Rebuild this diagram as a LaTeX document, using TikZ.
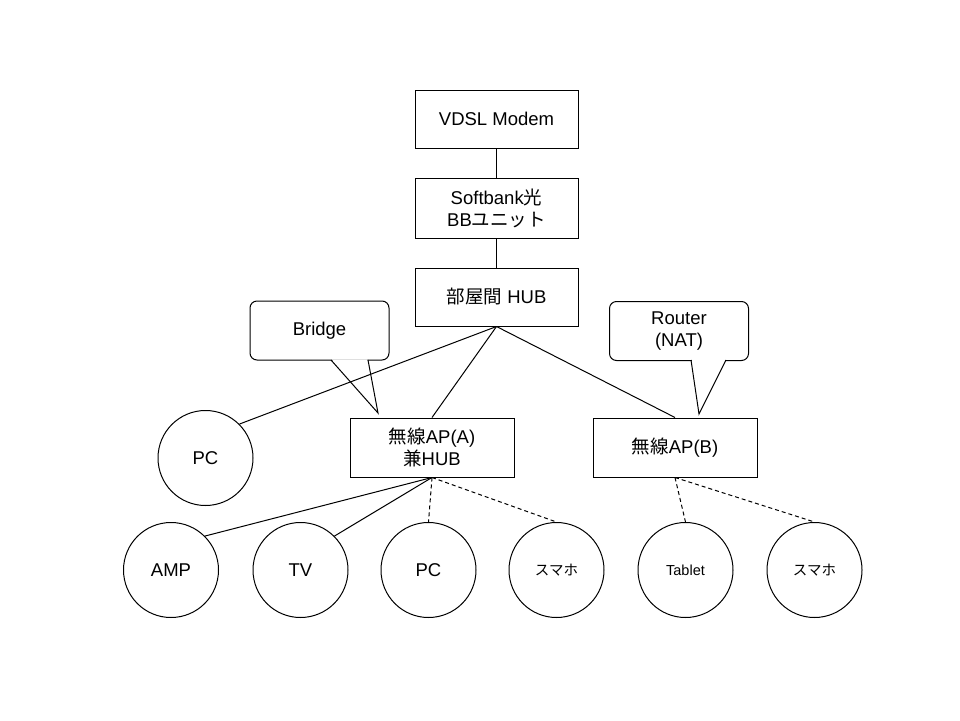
\documentclass[tikz,border=0pt]{standalone}
\usepackage{fontspec}
\setmainfont{Liberation Sans}
\newfontfamily\jp{Noto Sans CJK JP}
\begin{document}
\begin{tikzpicture}[x=1pt,y=-1pt,
  every node/.style={font=\fontsize{18.5}{22}\selectfont, align=center, inner sep=0pt},
  boxnode/.style={draw, line width=1pt, minimum width=163pt, minimum height=58pt},
  devnode/.style={draw, circle, line width=1pt, minimum size=95pt},
  smalltext/.style={font=\fontsize{14.5}{17}\selectfont},
  conn/.style={line width=1pt},
  wconn/.style={line width=1pt, dash pattern=on 4pt off 3pt},
  calloutbox/.style={draw, line width=1pt, rounded corners=7pt, minimum width=139pt, minimum height=59pt}
]
\useasboundingbox (0,0) rectangle (960,720);

% callouts
\node[calloutbox] (bridge) at (319.5,330.5) {Bridge};
\fill[white] (331.8,-0.6+360) -- (367.3,-0.6+360) -- (378,413) -- cycle;
\coordinate (bl) at (331,360);
\coordinate (br) at (368,360);
\coordinate (bt) at (378,413);
\draw[conn, line join=miter] (bl) -- (bt) -- (br);

\node[calloutbox] (router) at (679,331) {Router\\(NAT)};
\fill[white] (691.8,-0.6+360) -- (725.4,-0.6+360) -- (699,414) -- cycle;
\coordinate (rl) at (691,360);
\coordinate (rr) at (726,360);
\coordinate (rt) at (699,414);
\draw[conn, line join=miter] (rl) -- (rt) -- (rr);

% boxes
\node[boxnode] (vdsl) at (496.5,119) {VDSL Modem};
\node[boxnode, minimum height=60pt] (sbb) at (496.5,208) {Softbank{\jp 光}\\BB{\jp ユニット}};
\node[boxnode] (hub) at (496.5,297) {{\jp 部屋間} HUB};
\node[boxnode, minimum width=164pt, minimum height=59pt] (apa) at (432,447.5) {{\jp 無線}AP(A)\\{\jp 兼}HUB};
\node[boxnode, minimum width=164pt, minimum height=59pt] (apb) at (675,447.5) {{\jp 無線}AP(B)};

% devices
\node[devnode] (pcl) at (205.5,458) {PC};
\node[devnode] (amp) at (171,570) {AMP};
\node[devnode] (tv) at (300.5,570) {TV};
\node[devnode] (pcb) at (428.5,570) {PC};
\node[devnode, smalltext] (sma) at (556.5,570) {\jp スマホ};
\node[devnode, smalltext] (tab) at (685.5,570) {Tablet};
\node[devnode, smalltext] (smb) at (814.5,570) {\jp スマホ};

% connectors
\draw[conn] (vdsl.south) -- (sbb.north);
\draw[conn] (sbb.south) -- (hub.north);
\draw[conn] (hub.south) -- (pcl.45);
\draw[conn] (hub.south) -- (apa.north);
\draw[conn] (hub.south) -- (apb.north);
\draw[conn] (apa.south) -- (amp.45);
\draw[conn] (apa.south) -- (tv.45);
\draw[wconn] (apa.south) -- (pcb.north);
\draw[wconn] (apa.south) -- (sma.north);
\draw[wconn] (apb.south) -- (tab.north);
\draw[wconn] (apb.south) -- (smb.north);
\end{tikzpicture}
\end{document}
